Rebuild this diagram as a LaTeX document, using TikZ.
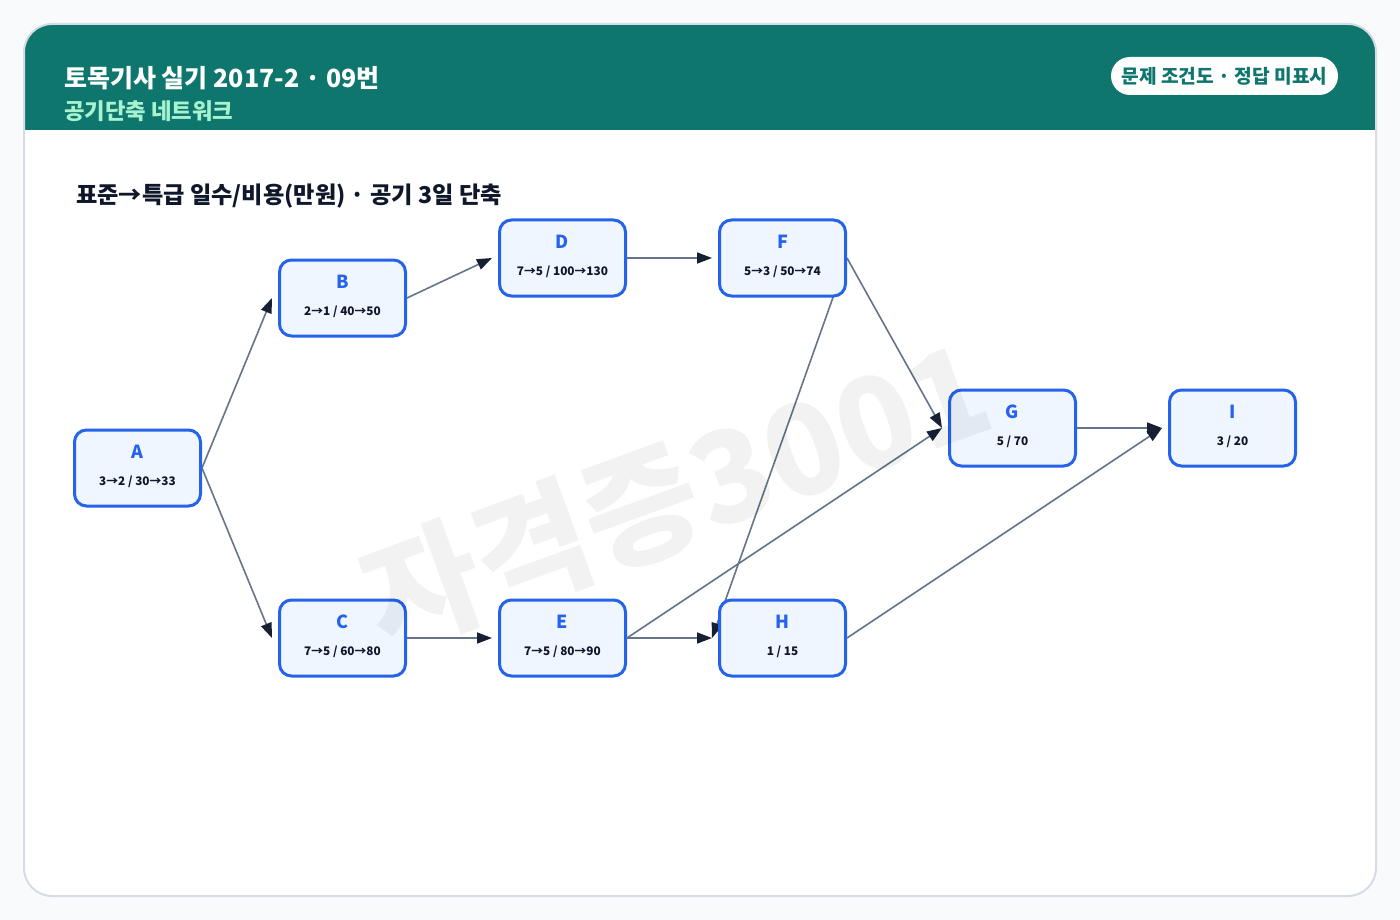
\documentclass[tikz,border=0pt]{standalone}
\usepackage{fontspec}
\setmainfont{Noto Sans CJK KR}
\usetikzlibrary{arrows.meta,backgrounds}
\definecolor{bgc}{HTML}{F8FAFC}
\definecolor{cardline}{HTML}{D5DCE6}
\definecolor{tealc}{HTML}{0F766E}
\definecolor{mintc}{HTML}{A7F3D0}
\definecolor{bluec}{HTML}{2563EB}
\definecolor{nfill}{HTML}{EFF6FF}
\definecolor{darkc}{HTML}{0F172A}
\definecolor{edgec}{HTML}{64748B}
\definecolor{arrowc}{HTML}{172033}
\tikzset{
  taskbox/.style={draw=bluec, fill=nfill, line width=3pt, rounded corners=12pt, minimum width=126pt, minimum height=76pt, inner sep=0pt},
  lettxt/.style={font=\fontsize{18}{18}\selectfont\bfseries, text=bluec, inner sep=0pt},
  subtxt/.style={font=\fontsize{11.8}{11.8}\selectfont\bfseries, text=darkc, inner sep=0pt},
  link/.style={draw=edgec, line width=1.6pt, -{Triangle[length=15pt,width=11pt,color=arrowc]}},
}
\newcommand{\task}[5]{%
  \node[taskbox] (#1) at (#2,#3) {};
  \node[lettxt] (#1l) at (#2,#3-16) {#4};
  \node[subtxt] (#1s) at (#2,#3+14) {#5};
}
\begin{document}
\begin{tikzpicture}[x=1pt,y=-1pt]
\useasboundingbox (0,0) rectangle (1400,920);
\begin{pgfonlayer}{background}
  \fill[bgc] (0,0) rectangle (1400,920);
  \fill[white, rounded corners=28pt] (24,24) rectangle (1376,896);
  \begin{scope}
    \clip[rounded corners=28pt] (24,24) rectangle (1376,896);
    \fill[tealc] (24,24) rectangle (1376,130);
  \end{scope}
  \draw[cardline, line width=2pt, rounded corners=28pt] (24,24) rectangle (1376,896);
\end{pgfonlayer}

\node[anchor=west, text=white, font=\fontsize{25}{25}\selectfont\bfseries, inner sep=0pt] (title) at (64,78) {토목기사 실기 2017-2 · 09번};
\node[anchor=west, text=mintc, font=\fontsize{22.3}{22.3}\selectfont\bfseries, inner sep=0pt] (subtitle) at (64,111) {공기단축 네트워크};
\node[fill=white, text=tealc, rounded corners=19pt, minimum width=227pt, minimum height=38pt, inner sep=0pt, font=\fontsize{19.2}{19.2}\selectfont\bfseries] (pill) at (1224.5,76) {문제 조건도 · 정답 미표시};
\node[anchor=west, text=darkc, font=\fontsize{23.2}{23.2}\selectfont\bfseries, inner sep=0pt] (sect) at (76,196) {표준→특급 일수/비용(만원) · 공기 3일 단축};

\task{A}{137.5}{468}{A}{3→2 / 30→33}
\task{B}{342.5}{298}{B}{2→1 / 40→50}
\task{C}{342.5}{638}{C}{7→5 / 60→80}
\task{D}{562.5}{258}{D}{7→5 / 100→130}
\task{E}{562.5}{638}{E}{7→5 / 80→90}
\task{F}{782.5}{258}{F}{5→3 / 50→74}
\task{G}{1012.5}{428}{G}{5 / 70}
\task{H}{782.5}{638}{H}{1 / 15}
\task{I}{1232.5}{428}{I}{3 / 20}

\begin{pgfonlayer}{background}
  \draw[link] (A.east) -- ([xshift=-6pt]B.west);
  \draw[link] (A.east) -- ([xshift=-6pt]C.west);
  \draw[link] (B.east) -- ([xshift=-6pt]D.west);
  \draw[link] (C.east) -- ([xshift=-6pt]E.west);
  \draw[link] (D.east) -- ([xshift=-6pt]F.west);
  \draw[link] (F.east) -- ([xshift=-6pt]G.west);
  \draw[link] (F.east) -- ([xshift=-6pt]H.west);
  \draw[link] (E.east) -- ([xshift=-6pt]H.west);
  \draw[link] (E.east) -- ([xshift=-6pt]G.west);
  \draw[link] (G.east) -- ([xshift=-6pt]I.west);
  \draw[link] (H.east) -- ([xshift=-6pt]I.west);
\end{pgfonlayer}

\node[rotate=20, text=black, text opacity=0.05, font=\fontsize{126}{126}\selectfont\bfseries, inner sep=0pt] (wm) at (676,494) {자격증3001};
\end{tikzpicture}
\end{document}
